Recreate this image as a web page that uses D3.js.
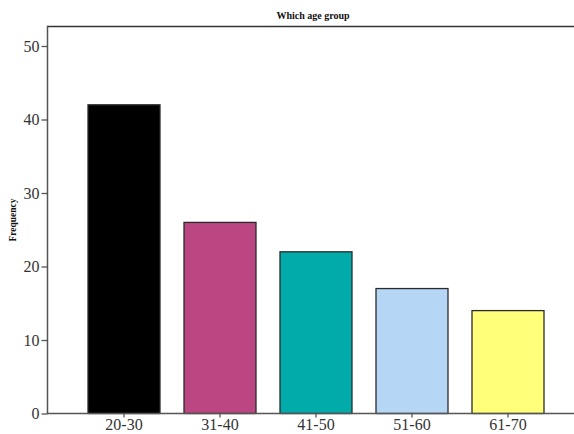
<!DOCTYPE html>
<html>
<head>
<meta charset="utf-8">
<script src="https://cdn.jsdelivr.net/npm/d3@7"></script>
<style>
  html, body { margin: 0; padding: 0; background: #fff; }
  svg { display: block; }
</style>
</head>
<body>
<svg id="chart" width="574" height="434"></svg>
<script>
const categories = ["20-30", "31-40", "41-50", "51-60", "61-70"];
const values = [42, 26, 22, 17, 14];
const colors = ["#000000", "#BC4682", "#00ABAA", "#B5D6F5", "#FFFF7A"];
const yTicks = [0, 10, 20, 30, 40, 50];
const title = "Which age group";
const yTitle = "Frequency";

const svg = d3.select("#chart");
const W = 574, H = 434;
const axisX = 47.5, axisY = 413.5, topY = 26.5;
const serif = "'Liberation Serif', 'Times New Roman', 'DejaVu Serif', serif";

const x = d3.scaleBand().domain(categories).range([76, 556]).paddingInner(0.25).paddingOuter(0.125);
const y = d3.scaleLinear().domain([0, 50]).range([413.5, 46]);

// bars
svg.append("g").selectAll("rect").data(categories).join("rect")
  .attr("x", d => x(d))
  .attr("y", (d, i) => y(values[i]))
  .attr("width", x.bandwidth())
  .attr("height", (d, i) => y(0) - y(values[i]))
  .attr("fill", (d, i) => colors[i])
  .attr("stroke", "#2a2a2a")
  .attr("stroke-width", 1.3);

// top frame line
svg.append("line").attr("x1", axisX).attr("x2", W).attr("y1", topY).attr("y2", topY)
  .attr("stroke", "#333").attr("stroke-width", 1.5);

// y axis
const yAxis = d3.axisLeft(y).tickValues(yTicks).tickSize(6).tickPadding(2).tickSizeOuter(0);
const gy = svg.append("g").attr("transform", `translate(${axisX},0)`).call(yAxis);
gy.select(".domain").remove();
gy.selectAll(".tick line").attr("stroke", "#555").attr("stroke-width", 1.3);
gy.selectAll(".tick text").attr("fill", "#333").style("font-family", serif).style("font-size", "16px");
svg.append("line").attr("x1", axisX).attr("x2", axisX).attr("y1", topY - 0.75).attr("y2", axisY)
  .attr("stroke", "#555").attr("stroke-width", 1.5);

// x axis
const xAxis = d3.axisBottom(x).tickSize(4).tickPadding(1).tickSizeOuter(0);
const gx = svg.append("g").attr("transform", `translate(0,${axisY})`).call(xAxis);
gx.select(".domain").remove();
gx.selectAll(".tick line").attr("stroke", "#555").attr("stroke-width", 1.3);
gx.selectAll(".tick text").attr("fill", "#333").style("font-family", serif).style("font-size", "16px");
svg.append("line").attr("x1", axisX - 0.75).attr("x2", W).attr("y1", axisY).attr("y2", axisY)
  .attr("stroke", "#555").attr("stroke-width", 1.5);

// title
svg.append("text").attr("x", 313).attr("y", 19).attr("text-anchor", "middle")
  .style("font-family", serif).style("font-weight", "bold").style("font-size", "10px")
  .attr("fill", "#111").text(title);

// y title
svg.append("text").attr("transform", "translate(16,220) rotate(-90)").attr("text-anchor", "middle")
  .style("font-family", serif).style("font-weight", "bold").style("font-size", "9.5px")
  .attr("fill", "#111").text(yTitle);
</script>
</body>
</html>
